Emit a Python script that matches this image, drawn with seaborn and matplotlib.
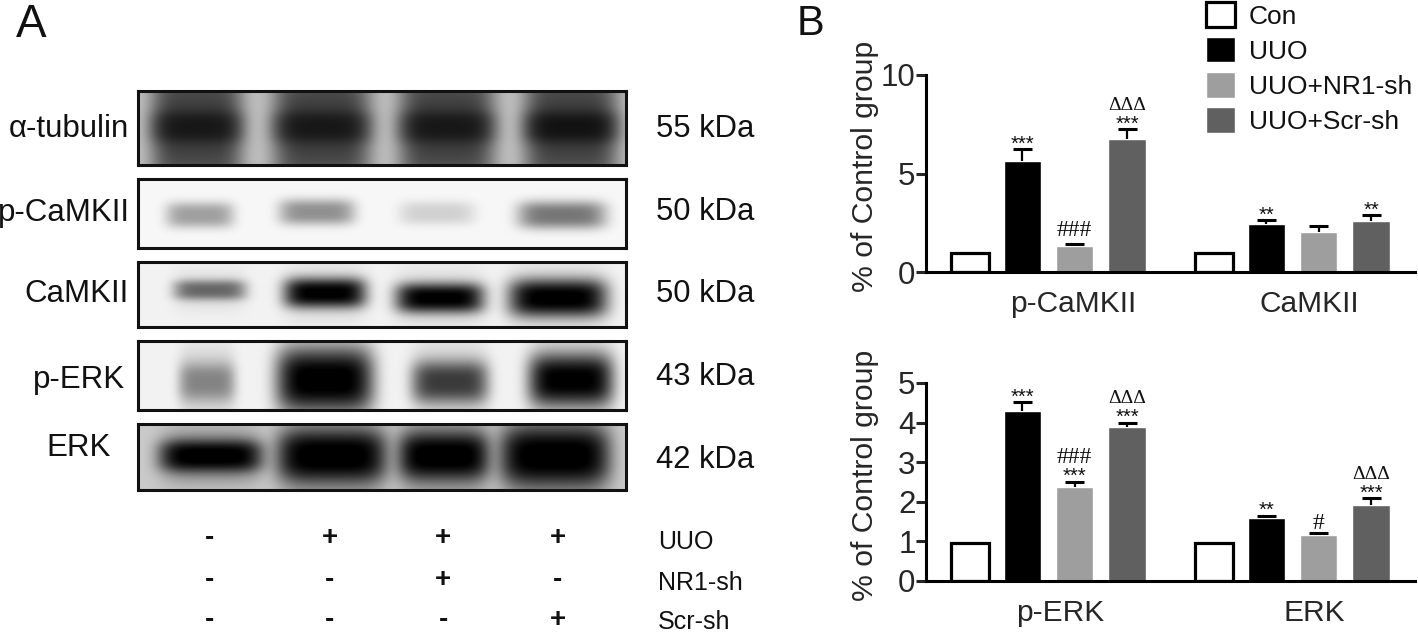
import numpy as np
import pandas as pd
import seaborn as sns
import matplotlib
matplotlib.use('Agg')
import matplotlib.pyplot as plt

W, H = 1418, 634

# Panel B values
groups_top = ['p-CaMKII', 'CaMKII']
groups_bottom = ['p-ERK', 'ERK']
treatments = ['Con', 'UUO', 'UUO+NR1-sh', 'UUO+Scr-sh']
colors = ['white', 'black', '#9e9e9e', '#606060']

pcamkii_mean = [0.95, 5.63, 1.32, 6.73]
pcamkii_top = [0.95, 6.22, 1.42, 7.24]
camkii_mean = [0.95, 2.42, 2.05, 2.61]
camkii_top = [0.95, 2.64, 2.32, 2.88]
perk_mean = [0.97, 4.30, 2.37, 3.90]
perk_top = [0.97, 4.52, 2.51, 4.00]
erk_mean = [0.97, 1.585, 1.15, 1.93]
erk_top = [0.97, 1.65, 1.20, 2.09]

# significance marks, one per bar
pcamkii_stars = ['', '***', '', '***']
pcamkii_sym = ['', '', '###', 'ΔΔΔ']
camkii_stars = ['', '**', '', '**']
camkii_sym = ['', '', '', '']
perk_stars = ['', '***', '***', '***']
perk_sym = ['', '', '###', 'ΔΔΔ']
erk_stars = ['', '**', '', '***']
erk_sym = ['', '', '#', 'ΔΔΔ']

# Panel A, band darkness per lane (0 white, 1 black)
blot_names = ['α-tubulin', 'p-CaMKII', 'CaMKII', 'p-ERK', 'ERK']
blot_sizes = ['55 kDa', '50 kDa', '50 kDa', '43 kDa', '42 kDa']
tubulin_bands = [0.50, 0.50, 0.50, 0.58]
pcamkii_bands = [0.34, 0.40, 0.15, 0.50]
camkii_bands = [0.50, 0.97, 0.97, 0.98]
perk_bands = [0.34, 0.99, 0.68, 0.97]
erk_bands = [0.98, 0.99, 0.99, 0.99]
tubulin_wash = 0.66
erk_wash = 0.45
perk_wash = 0.15
camkii_wash = 0.10
pcamkii_wash = 0.0

lane_rows = ['UUO', 'NR1-sh', 'Scr-sh']
uuo_signs = ['-', '+', '+', '+']
nr1_signs = ['-', '-', '+', '-']
scr_signs = ['-', '-', '-', '+']

sns.set_style('ticks')
plt.rcParams['font.family'] = ['Liberation Sans', 'DejaVu Sans']
plt.rcParams['text.color'] = '#111111'

fig = plt.figure(figsize=(W / 100, H / 100), dpi=100, facecolor='white')


def px_axes(x0, y0, x1, y1):
    return fig.add_axes([x0 / W, 1 - y1 / H, (x1 - x0) / W, (y1 - y0) / H])


def px_text(x, y, s, **kw):
    fig.text(x / W, 1 - y / H, s, **kw)


def draw_blot(box, bands, wash, wash_h, lanes, centers, half_w, half_h, background):
    x0, y0, x1, y1 = box
    xx, yy = np.meshgrid(np.arange(x0, x1) + 0.5, np.arange(y0, y1) + 0.5)
    light = np.full(xx.shape, 1 - background)
    for strength, cx, cy, hw, hh in zip(bands, lanes, centers, half_w, half_h):
        along = np.exp(-(np.abs(xx - cx) / hw) ** 5)
        light *= 1 - strength * along * np.exp(-(np.abs(yy - cy) / hh) ** 2.8)
        # smear of the lane around the band
        light *= 1 - wash * along * np.exp(-(np.abs(yy - cy) / (hh * wash_h)) ** 2.4)
    ax = px_axes(x0, y0, x1, y1)
    sns.heatmap(light, cmap='gray', vmin=0.04, vmax=1.0, cbar=False,
                xticklabels=False, yticklabels=False, ax=ax)
    for s in ax.spines.values():
        s.set_visible(True)
        s.set_linewidth(2.2)
        s.set_color('#111111')


def draw_bars(box, groups, mean_a, top_a, mean_b, top_b, ymax, yticks, label_pos,
              marks_a, marks_b, label_y):
    ax = px_axes(*box)
    df = pd.DataFrame({
        'group': [groups[0]] * 4 + [groups[1]] * 4,
        'treatment': treatments * 2,
        'value': mean_a + mean_b,
    })
    sns.barplot(data=df, x='group', y='value', hue='treatment', order=groups,
                hue_order=treatments, palette=dict(zip(treatments, colors)),
                width=0.859, gap=0.284, saturation=1, errorbar=None,
                legend=False, ax=ax)
    for bar in ax.containers[0]:
        bar.set_edgecolor('black')
        bar.set_linewidth(2.3)

    tops = [top_a, top_b]
    marks = [marks_a, marks_b]
    for h, container in enumerate(ax.containers):
        for g, bar in enumerate(container):
            xc = bar.get_x() + bar.get_width() / 2
            top = tops[g][h]
            means = (mean_a, mean_b)[g]
            if h > 0:
                ax.vlines(xc, means[h], top, color='black', lw=1.6, zorder=4)
                ax.hlines(top, xc - 0.039, xc + 0.039, color='black', lw=2.2, zorder=4)
            stars = marks[g][0][h]
            sym = marks[g][1][h]
            if stars:
                ax.annotate(stars, (xc, top), xytext=(0, 5), textcoords='offset pixels',
                            ha='center', va='center', fontsize=14.5)
            if sym:
                off = 24 if stars else (10 if sym == '#' else 14)
                ax.annotate(sym, (xc, top), xytext=(0, off),
                            textcoords='offset pixels', ha='center', va='center',
                            family='Liberation Serif',
                            fontsize=14 if sym.startswith('Δ') else 17)

    ax.set_xlim(-0.502, 1.502)
    ax.set_ylim(0, ymax)
    ax.set_yticks(yticks)
    ax.set_xticks(label_pos)
    ax.set_xticklabels(groups, fontsize=21.5)
    ax.tick_params(axis='x', length=0, pad=13)
    ax.tick_params(axis='y', length=7, width=2.2, labelsize=22.5, pad=0.5)
    ax.set_xlabel('')
    ax.set_ylabel('% of Control group', fontsize=21.7)
    ax.yaxis.set_label_coords(-47 / (box[2] - box[0]), label_y)
    sns.despine(ax=ax)
    for side in ['left', 'bottom']:
        ax.spines[side].set_linewidth(2.2)
        ax.spines[side].set_color('black')
    ax.patch.set_alpha(0)
    return ax


# Panel A
px_text(16, 37, 'A', fontsize=33, va='baseline')
blot_boxes = [(138, 91, 626, 165), (138, 179, 626, 248), (138, 262, 626, 327),
              (138, 341, 626, 410), (138, 424, 626, 490)]
blot_lanes = [[197, 322, 447, 571], [200, 317, 437, 562], [210, 325, 440, 558],
              [207, 325, 450, 571], [211, 332, 444, 555]]
blot_centers = [[127] * 4, [215, 212, 213, 215], [290, 293, 298, 298],
                [382, 380, 382, 380], [456, 456, 456, 456]]
blot_hw = [[46, 49, 48, 47], [34, 38, 38, 44], [36, 41, 44, 49],
           [28, 48, 38, 42], [50, 53, 44, 53]]
blot_hh = [[16] * 4, [13, 13, 12, 14], [10, 15, 15, 19], [19, 32, 21, 26],
           [15, 24, 22, 27]]
blot_bg = [0.24, 0.03, 0.05, 0.05, 0.20]
blot_bands = [tubulin_bands, pcamkii_bands, camkii_bands, perk_bands, erk_bands]
blot_wash = [tubulin_wash, pcamkii_wash, camkii_wash, perk_wash, erk_wash]
blot_wash_h = [5.0, 2.0, 2.0, 2.0, 1.7]
for i in range(5):
    draw_blot(blot_boxes[i], blot_bands[i], blot_wash[i], blot_wash_h[i], blot_lanes[i],
              blot_centers[i], blot_hw[i], blot_hh[i], blot_bg[i])

name_x = [69, 64, 76, 79, 79]
name_y = [129, 213, 294, 380, 448]
size_y = [129, 212, 294, 377, 460]
for i in range(5):
    px_text(name_x[i], name_y[i], blot_names[i], fontsize=22.5, ha='center', va='center')
    px_text(656, size_y[i], blot_sizes[i], fontsize=22.3, ha='left', va='center')

sign_x = [209, 330, 443, 558]
row_y = [538, 580, 620]
row_label_y = [542, 583, 622]
sign_rows = [uuo_signs, nr1_signs, scr_signs]
for r in range(3):
    for c in range(4):
        px_text(sign_x[c], row_y[r], sign_rows[r][c], fontsize=20, ha='center',
                va='center', fontweight='bold')
    px_text(658, row_label_y[r], lane_rows[r], fontsize=18, ha='left', va='center')

# Panel B
px_text(797, 35, 'B', fontsize=30, va='baseline')
ax_top = draw_bars((926, 75, 1415, 272), groups_top, pcamkii_mean, pcamkii_top,
                   camkii_mean, camkii_top, 10, [0, 5, 10], [0.10, 1.07],
                   (pcamkii_stars, pcamkii_sym), (camkii_stars, camkii_sym), 0.535)
ax_bottom = draw_bars((926, 383, 1415, 581), groups_bottom, perk_mean, perk_top,
                      erk_mean, erk_top, 5, [0, 1, 2, 3, 4, 5], [0.05, 1.09],
                      (perk_stars, perk_sym), (erk_stars, erk_sym), 0.535)

fig.legend(ax_top.containers, treatments, loc='upper left',
           bbox_to_anchor=(1206 / W, 1 - 2 / H), frameon=False, borderpad=0,
           borderaxespad=0, fontsize=19, handlelength=1.1, handleheight=1.1,
           handletextpad=0.52, labelspacing=0.32)

fig.savefig('out.png', dpi=100)
